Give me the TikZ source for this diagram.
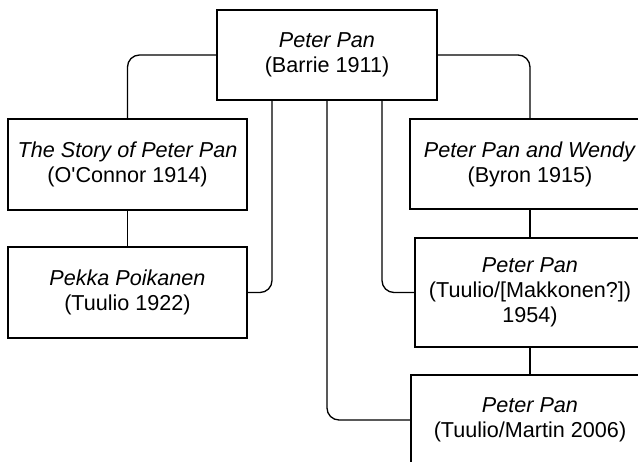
\documentclass[tikz,border=0pt]{standalone}
\usepackage{fontspec}
\setmainfont{Liberation Sans}
\begin{document}
\begin{tikzpicture}[x=1pt,y=-1pt,
  box/.style={draw,line width=1.3pt,align=center,inner sep=0pt,
    font=\fontsize{21.6pt}{25pt}\selectfont},
  link/.style={line width=1.3pt,rounded corners=12pt}]
\useasboundingbox (0,0) rectangle (638,462);
\begin{scope}
\clip (0,0) rectangle (638,462);
\node[box,minimum width=220pt,minimum height=90pt] (top) at (327,55) {\textit{Peter Pan}\\(Barrie 1911)};
\node[box,minimum width=239pt,minimum height=91pt] (story) at (127.5,164.5) {\textit{The Story of Peter Pan}\\(O\textquotesingle Connor 1914)};
\node[box,minimum width=239pt,minimum height=91pt] (pekka) at (127.5,292.5) {\textit{Pekka Poikanen}\\(Tuulio 1922)};
\node[box,minimum width=240pt,minimum height=90pt] (wendy) at (530,164) {\textit{Peter Pan and Wendy}\\(Byron 1915)};
\node[box,minimum width=230pt,minimum height=109pt] (mak) at (530,292.5) {\textit{Peter Pan}\\(Tuulio/[Makkonen?])\\1954)};
\node[box,minimum width=238pt,minimum height=90pt] (martin) at (530,420) {\textit{Peter Pan}\\(Tuulio/Martin 2006)};
\draw[link] (top.west) -| (story.north);
\draw[link] (top.east) -| (wendy.north);
\draw[link] (story.south) -- (pekka.north);
\draw[link] (wendy.south) -- (mak.north);
\draw[link] (mak.south) -- (martin.north);
\draw[link] ([xshift=-55pt]top.south) |- (pekka.east);
\draw[link] ([xshift=55pt]top.south) |- (mak.west);
\draw[link] (top.south) |- (martin.west);
\end{scope}
\end{tikzpicture}
\end{document}
